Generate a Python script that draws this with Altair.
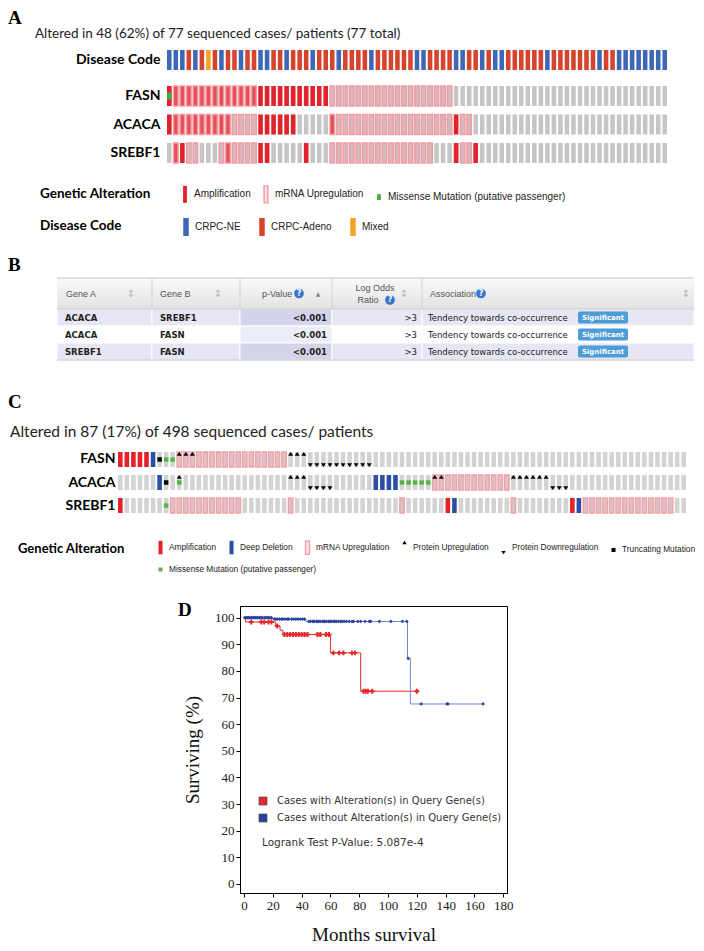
import altair as alt
import pandas as pd

# ============================ DATA ============================
# ---- Panel A: oncoprint, 77 cases. Runs read left to right: (value, number of cases)
A_TITLE = "Altered in 48 (62%) of 77 sequenced cases/ patients (77 total)"
A_N_CASES = 77
A_GENES = ["FASN", "ACACA", "SREBF1"]
A_DISEASES = ["CRPC-NE", "CRPC-Adeno", "Mixed"]
A_DISEASE_RUNS = [
    ("CRPC-NE", 3), ("CRPC-Adeno", 1), ("CRPC-NE", 1), ("CRPC-Adeno", 1), ("Mixed", 1),
    ("CRPC-Adeno", 1), ("CRPC-NE", 1), ("CRPC-Adeno", 2), ("CRPC-NE", 1), ("CRPC-Adeno", 2),
    ("CRPC-NE", 2), ("CRPC-Adeno", 2), ("CRPC-NE", 1), ("CRPC-Adeno", 3), ("CRPC-NE", 1),
    ("CRPC-Adeno", 3), ("CRPC-NE", 1), ("CRPC-Adeno", 4), ("CRPC-NE", 1), ("CRPC-Adeno", 6),
    ("CRPC-NE", 2), ("CRPC-Adeno", 4), ("CRPC-NE", 2), ("CRPC-Adeno", 2), ("CRPC-NE", 1),
    ("CRPC-Adeno", 1), ("CRPC-NE", 2), ("CRPC-Adeno", 6), ("CRPC-NE", 1), ("CRPC-Adeno", 7),
    ("CRPC-NE", 1), ("CRPC-Adeno", 2), ("CRPC-NE", 8),
]
A_FASN_RUNS = [("amp", 1), ("amp+mrna", 13), ("amp", 11), ("mrna", 19), ("none", 33)]
A_ACACA_RUNS = [("amp", 1), ("amp+mrna", 9), ("mrna", 4), ("amp", 6), ("none", 5), ("amp+mrna", 1),
                ("mrna", 18), ("amp", 1), ("mrna", 2), ("none", 30)]
A_SREBF1_RUNS = [("none", 1), ("amp+mrna", 1), ("amp", 1), ("mrna", 2), ("none", 3), ("mrna", 1),
                 ("amp+mrna", 1), ("mrna", 4), ("amp", 2), ("none", 5), ("amp", 1), ("none", 3),
                 ("mrna", 16), ("none", 3), ("amp", 1), ("mrna", 2), ("amp", 1), ("none", 29)]
A_MISSENSE = [("FASN", 0)]
A_ALTERATIONS = ["Amplification", "mRNA Upregulation", "Missense Mutation (putative passenger)"]

# ---- Panel B: mutual exclusivity table
B_HEADERS = ["Gene A", "Gene B", "p-Value", "Log Odds", "Ratio", "Association"]
B_GENE_A = ["ACACA", "ACACA", "SREBF1"]
B_GENE_B = ["SREBF1", "FASN", "FASN"]
B_PVALUE = ["<0.001", "<0.001", "<0.001"]
B_LOG_ODDS = [">3", ">3", ">3"]
B_ASSOC = ["Tendency towards co-occurrence"] * 3
B_SIG = ["Significant"] * 3

# ---- Panel C: oncoprint, 87 altered cases (column indices per alteration)
C_TITLE = "Altered in 87 (17%) of 498 sequenced cases/ patients"
C_N_CASES = 87
C_GENES = ["FASN", "ACACA", "SREBF1"]
C_ALTERATIONS = ["Amplification", "Deep Deletion", "mRNA Upregulation", "Protein Upregulation",
                 "Protein Downregulation", "Truncating Mutation"]
C_MISSENSE_NAME = "Missense Mutation (putative passenger)"
C_DATA = {
    "FASN": {
        "Amplification": [0, 1, 2, 3, 4],
        "Deep Deletion": [5],
        "Truncating Mutation": [6],
        "mRNA Upregulation": [9, 10, 11, 12, 13, 14, 15, 16, 17, 18, 19, 20, 21, 22, 23, 24, 25],
        "Protein Upregulation": [9, 10, 11, 26, 27, 28],
        "Protein Downregulation": [29, 30, 31, 32, 33, 34, 35, 36, 37, 38],
    },
    "ACACA": {
        "Deep Deletion": [6, 39, 40, 41, 42],
        "Truncating Mutation": [7],
        "mRNA Upregulation": [48, 49, 50, 51, 52, 53, 54, 55, 56, 57, 58, 59],
        "Protein Upregulation": [9, 26, 27, 28, 48, 49, 60, 61, 62, 63, 64, 65],
        "Protein Downregulation": [29, 30, 31, 32, 66, 67, 68],
    },
    "SREBF1": {
        "Amplification": [0, 50, 69],
        "Deep Deletion": [51, 70],
        "mRNA Upregulation": [8, 9, 10, 11, 12, 13, 14, 15, 16, 17, 18, 26, 43, 60,
                              71, 72, 73, 74, 75, 76, 77, 78, 79, 80, 81, 82, 83, 84],
    },
}
C_MISSENSE = {"FASN": [7, 8], "ACACA": [9, 43, 44, 45, 46, 47], "SREBF1": [7]}

# ---- Panel D: Kaplan-Meier survival
D_GROUPS = ["Cases with Alteration(s) in Query Gene(s)", "Cases without Alteration(s) in Query Gene(s)"]
D_WITH_MONTHS = [0, 1, 22, 25, 27, 60, 81, 120]
D_WITH_SURV = [100, 98.4, 96.9, 95.3, 93.7, 86.8, 72.4, 72.4]
D_WITHOUT_MONTHS = [0, 20, 43, 113.5, 115.5, 166]
D_WITHOUT_SURV = [100, 99.5, 98.6, 84.7, 67.6, 67.6]
D_WITH_CENSORED = [
    (98.4, [5, 12, 14, 17, 19]),
    (96.9, [23]),
    (93.7, [28, 30, 32, 34, 36, 38, 40, 42, 44, 51, 53, 57, 59]),
    (86.8, [62, 66, 69, 75, 77]),
    (72.4, [83, 84.5, 86, 89, 120]),
]
D_WITHOUT_CENSORED = [
    (100, [0.5, 1.5, 2.5, 3, 4, 5, 5.5, 6.5, 7, 8, 9, 9.5, 10.5, 11, 12, 13, 14.5, 15, 16, 17, 18, 19]),
    (99.5, [21, 22, 23, 24.5, 26, 27, 28.5, 30, 31, 33, 34.5, 36, 37.5, 39, 40.5, 42]),
    (98.6, [45, 46, 47.5, 48, 49, 50.5, 51, 52, 53, 54.5, 55, 56, 57, 58.5, 59, 60, 61, 62.5, 63, 64,
            65.5, 67, 68, 69.5, 71, 73, 75, 76, 79, 81, 84, 87, 88, 94, 102, 110, 113]),
    (84.7, [114]),
    (67.6, [123, 141, 141.6, 166]),
]
D_PVALUE = "Logrank Test P-Value: 5.087e-4"

# ============================ STYLE ============================
SERIF = "Liberation Serif"
CAL = "Lato"
ARIAL = "Liberation Sans"
VERD = "DejaVu Sans"

# glyph paths (unit radius 1 == half of sqrt(size))
A_BAR = "M-0.455,-2H0.455V2H-0.455Z"
A_SQ = "M-0.455,-0.7H0.455V0.7H-0.455Z"
DC_BAR = "M-0.55,-1.8H0.55V1.8H-0.55Z"
C_BAR = "M-0.45,-1.5H0.45V1.5H-0.45Z"
C_SQ = "M-0.45,-0.45H0.45V0.45H-0.45Z"
C_UP = "M0,-1.5L0.5,-0.75L-0.5,-0.75ZM0,1.5"
C_DOWN = "M-0.5,0.75L0.5,0.75L0,1.5ZM0,-1.5"
MRNA_FILL = "rgba(244,160,170,0.35)"


def runs_to_list(runs):
    out = []
    for value, n in runs:
        out += [value] * n
    return out


def text_layer(text, x, y, size, font, weight="normal", color="#000", align="left", baseline="middle"):
    df = pd.DataFrame({"t": [text]})
    return alt.Chart(df).mark_text(
        align=align, baseline=baseline, font=font, fontSize=size, fontWeight=weight, color=color
    ).encode(text="t:N", x=alt.value(x), y=alt.value(y))


LABEL_AXIS = dict(orient="left", title=None, domain=False, ticks=False, tickSize=0,
                  labelFont=CAL, labelFontWeight="bold", labelColor="#000", labelPadding=4)

# ============================ PANEL A ============================
dc_df = pd.DataFrame({"col": list(range(A_N_CASES)), "row": "Disease Code",
                      "disease": runs_to_list(A_DISEASE_RUNS)})
a_bg_df = pd.DataFrame([{"col": c, "gene": g} for g in A_GENES for c in range(A_N_CASES)])
a_codes = {"FASN": runs_to_list(A_FASN_RUNS), "ACACA": runs_to_list(A_ACACA_RUNS),
           "SREBF1": runs_to_list(A_SREBF1_RUNS)}
a_map = {"amp": [A_ALTERATIONS[0]], "mrna": [A_ALTERATIONS[1]],
         "amp+mrna": [A_ALTERATIONS[0], A_ALTERATIONS[1]], "none": []}
rows = []
for g in A_GENES:
    for c, code in enumerate(a_codes[g]):
        for name in a_map[code]:
            rows.append({"col": c, "gene": g, "alteration": name})
for g, c in A_MISSENSE:
    rows.append({"col": c, "gene": g, "alteration": A_ALTERATIONS[2]})
a_gl_df = pd.DataFrame(rows)
a_gl_df["z"] = a_gl_df["alteration"].map({a: i for i, a in enumerate(A_ALTERATIONS)})
a_gl_df = a_gl_df.sort_values(["z", "col"], kind="stable")

ax = alt.X("col:O", axis=None,
           scale=alt.Scale(domain=list(range(A_N_CASES)), range=[-73, 427], paddingInner=0.3, paddingOuter=0))

dc_legend = alt.Legend(title=None, orient="none", legendX=-60, legendY=213, direction="horizontal",
                       symbolType=DC_BAR, symbolSize=100, labelFont=ARIAL, labelFontSize=10,
                       labelColor="#222", labelOffset=3, columnPadding=15, labelLimit=300)
dc_layer = alt.Chart(dc_df).mark_rect().encode(
    x=ax,
    y=alt.Y("row:N", scale=alt.Scale(domain=["Disease Code"], range=[42, 62], paddingInner=0, paddingOuter=0),
            axis=alt.Axis(offset=76, labelFontSize=14, **LABEL_AXIS)),
    fill=alt.Fill("disease:N", scale=alt.Scale(domain=A_DISEASES, range=["#3d68b6", "#d6442e", "#f4a423"]),
                  legend=dc_legend),
)

gy = alt.Y("gene:N", scale=alt.Scale(domain=A_GENES, range=[78, 155], paddingInner=0.298, paddingOuter=0),
           axis=alt.Axis(offset=76, labelFontSize=14, **LABEL_AXIS))
a_bg = alt.Chart(a_bg_df).mark_rect(fill="#c6c6c6").encode(x=ax, y=gy)
a_leg = alt.Legend(title=None, orient="none", legendX=-60, legendY=181, direction="horizontal",
                   symbolSize=72, symbolStrokeWidth=1.4, labelFont=ARIAL, labelFontSize=10,
                   labelColor="#222", labelOffset=4, columnPadding=10, labelLimit=300)
a_gl = alt.Chart(a_gl_df).mark_point(opacity=1, size=100, strokeWidth=1.4).encode(
    x=ax, y=gy,
    shape=alt.Shape("alteration:N", scale=alt.Scale(domain=A_ALTERATIONS, range=[A_BAR, A_BAR, A_SQ]),
                    legend=a_leg),
    fill=alt.Fill("alteration:N", scale=alt.Scale(domain=A_ALTERATIONS,
                                                  range=["#e2232b", MRNA_FILL, "#49ad3e"]), legend=a_leg),
    stroke=alt.Stroke("alteration:N", scale=alt.Scale(domain=A_ALTERATIONS,
                                                      range=["transparent", "#f29ba3", "transparent"]),
                      legend=a_leg),
)

panel_a = alt.layer(
    dc_layer,
    alt.layer(a_bg, a_gl),
    text_layer("A", -232, 16, 19, SERIF, "bold", baseline="alphabetic"),
    text_layer(A_TITLE, -205, 25.5, 13.5, CAL, color="#222"),
    text_layer("Genetic Alteration", -200, 186, 13.5, CAL, "bold"),
    text_layer("Disease Code", -200, 218, 13.5, CAL, "bold"),
).resolve_scale(y="independent", fill="independent", stroke="independent", shape="independent").properties(
    width=267, height=232)

# ============================ PANEL B ============================
B_EDGES = [0, 95, 183, 275, 365, 637]
B_HEAD_H = 31
B_ROW_H = 17
BX_SCALE = alt.Scale(domain=[0, 637], range=[-183, 454], nice=False, zero=False)
BY_SCALE = alt.Scale(domain=[0, 82], range=[38, 120], nice=False, zero=False)
bx = alt.X("x0:Q", axis=None, scale=BX_SCALE)
by = alt.Y("y0:Q", axis=None, scale=BY_SCALE)

hdr = alt.Chart(pd.DataFrame({"x0": [0], "x1": [637], "y0": [0], "y1": [B_HEAD_H]})).mark_rect(
    fill=alt.Gradient(gradient="linear", x1=0, x2=0, y1=0, y2=1,
                      stops=[alt.GradientStop(color="#fafafa", offset=0),
                             alt.GradientStop(color="#e2e2e2", offset=1)])
).encode(x=bx, x2="x1:Q", y=by, y2="y1:Q")

cells = []
for r in range(len(B_GENE_A)):
    for c in range(5):
        cells.append({"x0": B_EDGES[c], "x1": B_EDGES[c + 1], "y0": B_HEAD_H + r * B_ROW_H,
                      "y1": B_HEAD_H + (r + 1) * B_ROW_H,
                      "shade": ("odd" if r % 2 == 0 else "even") + ("-sorted" if c == 2 else "")})
cell_layer = alt.Chart(pd.DataFrame(cells)).mark_rect(stroke="#ffffff", strokeWidth=1).encode(
    x=bx, x2="x1:Q", y=by, y2="y1:Q",
    fill=alt.Fill("shade:N", legend=None,
                  scale=alt.Scale(domain=["odd", "odd-sorted", "even", "even-sorted"],
                                  range=["#e6e6f4", "#d3d3ea", "#ffffff", "#ededf7"])))

vsep = alt.Chart(pd.DataFrame({"x0": B_EDGES[1:5], "y0": [0] * 4, "y1": [B_HEAD_H] * 4})).mark_rule(
    color="#d2d2d2").encode(x=bx, y=by, y2="y1:Q")
hsep = alt.Chart(pd.DataFrame({"x0": [0, 0, 0], "x1": [637] * 3, "y0": [0, B_HEAD_H, 82]})).mark_rule(
    color="#c4c4c4").encode(x=bx, x2="x1:Q", y=by)

head_left = pd.DataFrame({"t": [B_HEADERS[0], B_HEADERS[1], B_HEADERS[2], B_HEADERS[5]],
                          "x0": [9, 103, 205, 373], "y0": [15.5] * 4})
head_lt = alt.Chart(head_left).mark_text(align="left", baseline="middle", font=ARIAL, fontSize=9,
                                         color="#555").encode(text="t:N", x=bx, y=by)
head_c = pd.DataFrame({"t": [B_HEADERS[3], B_HEADERS[4]], "x0": [318, 311], "y0": [9.5, 22]})
head_ct = alt.Chart(head_c).mark_text(align="center", baseline="middle", font=ARIAL, fontSize=9,
                                      color="#555").encode(text="t:N", x=bx, y=by)
sort_df = pd.DataFrame({"t": ["\u21d5"] * 4, "x0": [74, 161, 347, 629], "y0": [15.5] * 4})
sort_t = alt.Chart(sort_df).mark_text(align="center", baseline="middle", font=VERD, fontSize=10,
                                      color="#b5b5b5").encode(text="t:N", x=bx, y=by)
asc_t = alt.Chart(pd.DataFrame({"t": ["\u25b2"], "x0": [261], "y0": [15.5]})).mark_text(
    align="center", baseline="middle", font=VERD, fontSize=6, color="#888").encode(text="t:N", x=bx, y=by)
help_df = pd.DataFrame({"t": ["?"] * 3, "x0": [242, 333, 424], "y0": [15.5, 22, 15.5]})
help_c = alt.Chart(help_df).mark_circle(size=95, color="#3576cf", opacity=1).encode(x=bx, y=by)
help_t = alt.Chart(help_df).mark_text(align="center", baseline="middle", font=VERD, fontSize=8,
                                      fontWeight="bold", color="#fff").encode(text="t:N", x=bx, y=by)

row_y = [B_HEAD_H + r * B_ROW_H + B_ROW_H / 2 for r in range(len(B_GENE_A))]
bold_left = pd.DataFrame({"t": B_GENE_A + B_GENE_B, "x0": [8] * 3 + [103] * 3, "y0": row_y * 2})
bl_t = alt.Chart(bold_left).mark_text(align="left", baseline="middle", font=VERD, fontSize=8.5,
                                      fontWeight="bold", color="#222").encode(text="t:N", x=bx, y=by)
p_t = alt.Chart(pd.DataFrame({"t": B_PVALUE, "x0": [270] * 3, "y0": row_y})).mark_text(
    align="right", baseline="middle", font=VERD, fontSize=8.5, fontWeight="bold", color="#222").encode(
    text="t:N", x=bx, y=by)
lo_t = alt.Chart(pd.DataFrame({"t": B_LOG_ODDS, "x0": [360] * 3, "y0": row_y})).mark_text(
    align="right", baseline="middle", font=VERD, fontSize=8.5, color="#222").encode(text="t:N", x=bx, y=by)
as_t = alt.Chart(pd.DataFrame({"t": B_ASSOC, "x0": [371] * 3, "y0": row_y})).mark_text(
    align="left", baseline="middle", font=VERD, fontSize=8.5, color="#222").encode(text="t:N", x=bx, y=by)
badge_df = pd.DataFrame({"t": B_SIG, "x0": [521] * 3, "x1": [571] * 3,
                         "y0": [y - 6 for y in row_y], "y1": [y + 6 for y in row_y], "xc": [546] * 3, "yc": row_y})
badge = alt.Chart(badge_df).mark_rect(fill="#4d9bd7", cornerRadius=2).encode(x=bx, x2="x1:Q", y=by, y2="y1:Q")
badge_t = alt.Chart(badge_df).mark_text(align="center", baseline="middle", font=VERD, fontSize=7,
                                        fontWeight="bold", color="#fff").encode(
    text="t:N", x=alt.X("xc:Q", scale=BX_SCALE, axis=None), y=alt.Y("yc:Q", scale=BY_SCALE, axis=None))

panel_b = alt.layer(
    hdr, cell_layer, vsep, hsep, head_lt, head_ct, sort_t, asc_t, help_c, help_t,
    bl_t, p_t, lo_t, as_t, badge, badge_t,
    text_layer("B", -232, 31, 19, SERIF, "bold", baseline="alphabetic"),
).properties(width=267, height=135)

# ============================ PANEL C ============================
c_bg_df = pd.DataFrame([{"col": c, "gene": g} for g in C_GENES for c in range(C_N_CASES)])
DRAW_ORDER = ["Amplification", "Deep Deletion", "mRNA Upregulation", "Truncating Mutation",
              "Protein Upregulation", "Protein Downregulation"]
crows = []
for g in C_GENES:
    for name, cols in C_DATA[g].items():
        for c in cols:
            crows.append({"col": c, "gene": g, "alteration": name, "z": DRAW_ORDER.index(name)})
c_gl_df = pd.DataFrame(crows).sort_values(["z", "col"], kind="stable")
c_ms_df = pd.DataFrame([{"col": c, "gene": g, "alteration": C_MISSENSE_NAME}
                        for g in C_GENES for c in C_MISSENSE[g]])

cx = alt.X("col:O", axis=None,
           scale=alt.Scale(domain=list(range(C_N_CASES)), range=[-122, 446], paddingInner=0.3, paddingOuter=0))
cy = alt.Y("gene:N", scale=alt.Scale(domain=C_GENES, range=[77, 138], paddingInner=0.348, paddingOuter=0),
           axis=alt.Axis(offset=121, labelFontSize=14, **LABEL_AXIS))
c_bg = alt.Chart(c_bg_df).mark_rect(fill="#d3d3d3").encode(x=cx, y=cy)
c_leg = alt.Legend(title=None, orient="none", legendX=-85, legendY=167, direction="horizontal",
                   symbolSize=81, symbolStrokeWidth=1.3, labelFont=ARIAL,
                   labelFontSize=8.3, labelColor="#222", labelOffset=3, columnPadding=9, labelLimit=300)
c_gl = alt.Chart(c_gl_df).mark_point(opacity=1, size=100, strokeWidth=1.3).encode(
    x=cx, y=cy,
    shape=alt.Shape("alteration:N", legend=c_leg, scale=alt.Scale(
        domain=C_ALTERATIONS, range=[C_BAR, C_BAR, C_BAR, C_UP, C_DOWN, C_SQ])),
    fill=alt.Fill("alteration:N", legend=c_leg, scale=alt.Scale(
        domain=C_ALTERATIONS, range=["#e6212a", "#2a4fa5", MRNA_FILL, "#000", "#000", "#000"])),
    stroke=alt.Stroke("alteration:N", legend=c_leg, scale=alt.Scale(
        domain=C_ALTERATIONS, range=["transparent", "transparent", "#f0a0a7", "transparent", "transparent",
                                     "transparent"])),
)
c_ms_leg = alt.Legend(title=None, orient="none", legendX=-85, legendY=189, direction="horizontal",
                      symbolType=C_SQ, symbolSize=81, labelFont=ARIAL, labelFontSize=8.3, labelColor="#222",
                      labelOffset=3, labelLimit=300)
c_ms = alt.Chart(c_ms_df).mark_point(opacity=1, size=100, filled=True, shape=C_SQ).encode(
    x=cx, y=cy,
    color=alt.Color("alteration:N", legend=c_ms_leg,
                    scale=alt.Scale(domain=[C_MISSENSE_NAME], range=["#55b646"])),
)
panel_c = alt.layer(
    c_bg, c_gl, c_ms,
    text_layer("C", -232, 33, 19, SERIF, "bold", baseline="alphabetic"),
    text_layer(C_TITLE, -230, 57, 15.5, CAL, color="#222"),
    text_layer("Genetic Alteration", -222, 174, 13, CAL, "bold"),
).properties(width=267, height=231)

# ============================ PANEL D ============================
line_with = pd.DataFrame({"months": D_WITH_MONTHS, "surv": D_WITH_SURV})
line_without = pd.DataFrame({"months": D_WITHOUT_MONTHS, "surv": D_WITHOUT_SURV})
cens_with = pd.DataFrame([{"group": D_GROUPS[0], "months": t, "surv": level}
                          for level, times in D_WITH_CENSORED for t in times])
cens_without = pd.DataFrame([{"group": D_GROUPS[1], "months": t, "surv": level}
                             for level, times in D_WITHOUT_CENSORED for t in times])

dxe = alt.X("months:Q", scale=alt.Scale(domain=[-2.8, 182.6], nice=False, zero=False),
            axis=alt.Axis(values=[0, 20, 40, 60, 80, 100, 120, 140, 160, 180], title="Months survival",
                          titleFont=SERIF, titleFontSize=19, titleFontWeight="normal", titleColor="#111",
                          titlePadding=13, labelFont=SERIF, labelFontSize=13, labelColor="#222", tickSize=4,
                          tickColor="#000", domainColor="#000", grid=False, labelPadding=2, labelFlush=False))
dye = alt.Y("surv:Q", scale=alt.Scale(domain=[-3.4, 104.4], nice=False, zero=False),
            axis=alt.Axis(values=[0, 10, 20, 30, 40, 50, 60, 70, 80, 90, 100], title="Surviving (%)",
                          titleFont=SERIF, titleFontSize=19, titleFontWeight="normal", titleColor="#111",
                          titlePadding=12, labelFont=SERIF, labelFontSize=13, labelColor="#222", tickSize=4,
                          tickColor="#000", domainColor="#000", grid=False, labelPadding=2, labelFlush=False))
d_line_red = alt.Chart(line_with).mark_line(interpolate="step-after", strokeWidth=1, color="#e52a2a").encode(
    x=dxe, y=dye)
d_line_blue = alt.Chart(line_without).mark_line(interpolate="step-after", strokeWidth=1, color="#7383d6").encode(
    x=dxe, y=dye)
d_leg = alt.Legend(title=None, orient="none", legendX=18, legendY=190, symbolType="square", symbolSize=64,
                   symbolStrokeColor="#555", symbolStrokeWidth=0.8, labelFont=VERD, labelFontSize=10,
                   labelColor="#333", labelOffset=9, rowPadding=5, labelLimit=400)
d_color = alt.Color("group:N", legend=d_leg, scale=alt.Scale(domain=D_GROUPS, range=["#e52a2a", "#2c3f9e"]))
d_cens_red = alt.Chart(cens_with).mark_point(filled=True, opacity=1, size=24, shape="cross").encode(
    x=dxe, y=dye, color=d_color)
d_cens_blue = alt.Chart(cens_without).mark_point(filled=True, opacity=1, size=14, shape="diamond").encode(
    x=dxe, y=dye, color=d_color)
panel_d = alt.layer(
    d_line_red, d_line_blue, d_cens_red, d_cens_blue,
    text_layer(D_PVALUE, 22, 237, 10.5, VERD, color="#333"),
    text_layer("D", -62, 10, 19, SERIF, "bold", baseline="alphabetic"),
).properties(width=267, height=287, view=alt.ViewBackground(stroke="#000", strokeWidth=1))

chart = alt.vconcat(panel_a, panel_b, panel_c, panel_d, spacing=0, bounds="flush").resolve_scale(
    fill="independent", stroke="independent", shape="independent", color="independent"
).properties(padding=0).configure_view(stroke=None)

chart.save("out.html", embed_options={"renderer": "svg", "actions": False})
